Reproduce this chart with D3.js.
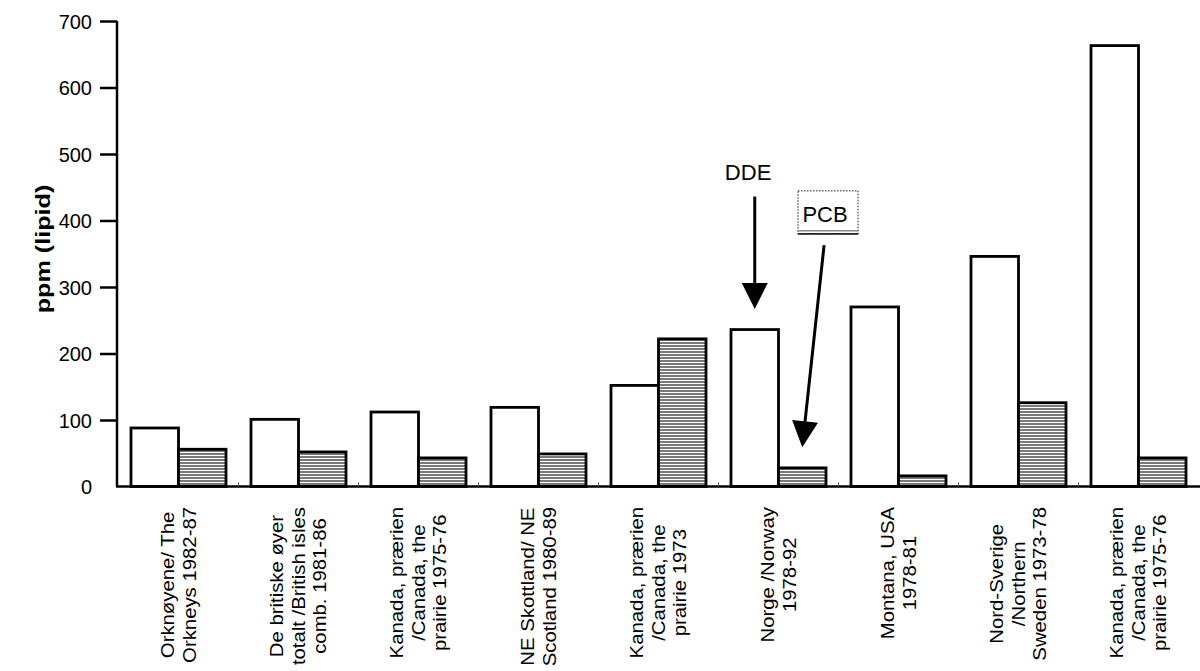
<!DOCTYPE html>
<html><head><meta charset="utf-8">
<script src="https://cdn.jsdelivr.net/npm/d3@7"></script>
<style>
html,body{margin:0;padding:0;background:#fff;}
svg{display:block;font-family:"Liberation Sans",Arial,Helvetica,sans-serif;}
</style></head><body>
<svg id="chart" width="1200" height="671"></svg>
<script>
// ---------- data ----------
const categories = [
  ["Orknøyene/ The", "Orkneys 1982-87"],
  ["De britiske øyer", "totalt /British isles", "comb. 1981-86"],
  ["Kanada, prærien", "/Canada, the", "prairie 1975-76"],
  ["NE Skottland/ NE", "Scotland 1980-89"],
  ["Kanada, prærien", "/Canada, the", "prairie 1973"],
  ["Norge /Norway", "1978-92"],
  ["Montana, USA", "1978-81"],
  ["Nord-Sverige", "/Northern", "Sweden 1973-78"],
  ["Kanada, prærien", "/Canada, the", "prairie 1975-76"]
];
const seriesNames = ["DDE", "PCB"];
const ddeValues = [88, 101, 112, 119, 152, 236, 270, 346, 663];
const pcbValues = [56, 52, 43, 49, 222, 28, 16, 126, 43];
const yTicks = [0, 100, 200, 300, 400, 500, 600, 700];
const yLabel = "ppm (lipid)";
// annotation arrows, in data space: category index, fraction across group band, value
const annotations = [
  { label: "DDE", boxed: false, cat: 5, labelFrac: 0.18, labelValue: 461,
    tailFrac: 0.25, tailValue: 436, tipFrac: 0.25, tipValue: 267 },
  { label: "PCB", boxed: true, cat: 5, labelFrac: 0.99, labelValue: 398,
    tailFrac: 0.98, tailValue: 363, tipFrac: 0.75, tipValue: 59 }
];

// ---------- layout ----------
const W = 1200, H = 671;
const axisX = 117, y0px = 486.5, yTopPx = 21;
const svg = d3.select("#chart");

const idx = categories.map((d, i) => i);
const x = d3.scaleBand().domain(idx).range([118.5, 1198.5])
  .paddingInner(25 / 120).paddingOuter(12.5 / 120);
const xs = d3.scaleBand().domain(seriesNames).range([0, x.bandwidth()]).padding(0);
const y = d3.scaleLinear().domain([0, 700]).range([y0px, yTopPx]);

// hatch pattern
const defs = svg.append("defs");
const pat = defs.append("pattern").attr("id", "hatch")
  .attr("patternUnits", "userSpaceOnUse").attr("width", 8).attr("height", 3);
pat.append("rect").attr("width", 8).attr("height", 3).attr("fill", "#ffffff");
pat.append("rect").attr("width", 8).attr("height", 2).attr("fill", "#7a7a7a");

const data = idx.map(i => ({ i, values: [
  { s: "DDE", v: ddeValues[i] }, { s: "PCB", v: pcbValues[i] }] }));

// bars
const groups = svg.append("g").selectAll("g").data(data).join("g")
  .attr("transform", d => `translate(${x(d.i)},0)`);
groups.selectAll("rect").data(d => d.values).join("rect")
  .attr("x", d => xs(d.s))
  .attr("width", xs.bandwidth())
  .attr("y", d => y(d.v))
  .attr("height", d => y(0) - y(d.v))
  .attr("fill", d => d.s === "DDE" ? "#ffffff" : "url(#hatch)")
  .attr("stroke", "#000").attr("stroke-width", 2.8);

// x axis line and small inner ticks at group boundaries
svg.append("line").attr("x1", axisX - 1).attr("x2", W).attr("y1", y(0)).attr("y2", y(0))
  .attr("stroke", "#000").attr("stroke-width", 2.5);
const step = x.step();
const bounds = idx.slice(1).map(i => x(i) - x.paddingInner() * step / 2);
svg.append("g").selectAll("line").data(bounds).join("line")
  .attr("x1", d => d).attr("x2", d => d)
  .attr("y1", y(0)).attr("y2", y(0) - 4)
  .attr("stroke", "#555").attr("stroke-width", 1);

// y axis
const yAxis = d3.axisLeft(y).tickValues(yTicks).tickSize(17).tickPadding(8)
  .tickFormat(d3.format("d"));
const ya = svg.append("g").attr("transform", `translate(${axisX},0)`).call(yAxis);
ya.select(".domain").attr("stroke", "#000").attr("stroke-width", 2.5)
  .attr("d", `M0,${y(700)}V${y(0)}`);
ya.selectAll(".tick line").attr("stroke", "#000").attr("stroke-width", 2.5)
  .filter(d => d === 0).remove();
ya.selectAll(".tick text").attr("font-size", 20).attr("fill", "#000")
  .attr("font-family", '"Liberation Sans",Arial,sans-serif').attr("dy", "0.35em");

// y label
svg.append("g").attr("transform", "translate(44,249) rotate(-90) scale(1.2,1)")
  .append("text").attr("text-anchor", "middle").attr("y", 5.5)
  .attr("font-size", 21).attr("font-weight", "bold").text(yLabel);

// category labels (rotated, lines centered in block, block top at fixed y)
const labelTop = 507, lineGap = 21.5, catFont = 18, stretch = 1.13;
categories.forEach((lines, i) => {
  const cx = x(i) + x.bandwidth() / 2;
  const g = svg.append("g")
    .attr("transform", `translate(${cx},${labelTop}) rotate(-90) scale(${stretch},1)`);
  const texts = lines.map((t, k) => g.append("text")
    .attr("font-size", catFont).attr("text-anchor", "middle")
    .attr("y", (k - (lines.length - 1) / 2) * lineGap + 6.4)
    .text(t));
  const maxLen = d3.max(texts, t => t.node().getComputedTextLength());
  texts.forEach(t => t.attr("x", -maxLen / 2));
});

// annotations
const ax = (a, f) => x(a.cat) + f * x.bandwidth();
annotations.forEach(a => {
  const lx = ax(a, a.labelFrac), ly = y(a.labelValue);
  if (a.boxed) {
    const bx = lx - 27, by = ly - 31, bw = 60, bh = 43;
    svg.append("rect").attr("x", bx).attr("y", by).attr("width", bw).attr("height", bh)
      .attr("fill", "none").attr("stroke", "#666").attr("stroke-width", 1.5)
      .attr("stroke-dasharray", "1.5,1.5");
    svg.append("line").attr("x1", bx).attr("x2", bx + bw).attr("y1", by + bh - 3).attr("y2", by + bh - 3)
      .attr("stroke", "#888").attr("stroke-width", 1.5);
    svg.append("line").attr("x1", bx).attr("x2", bx + bw).attr("y1", by + bh).attr("y2", by + bh)
      .attr("stroke", "#222").attr("stroke-width", 1.6);
  }
  svg.append("text").attr("x", lx).attr("y", ly).attr("text-anchor", "middle")
    .attr("font-size", 22).text(a.label);

  const tx = ax(a, a.tailFrac), ty = y(a.tailValue);
  const px = ax(a, a.tipFrac), py = y(a.tipValue);
  const dx = px - tx, dy = py - ty, len = Math.hypot(dx, dy);
  const ux = dx / len, uy = dy / len, nx = -uy, ny = ux;
  const headL = 26, headW = 13;
  const bx = px - ux * headL, by = py - uy * headL;
  svg.append("line").attr("x1", tx).attr("y1", ty).attr("x2", bx + ux * 2).attr("y2", by + uy * 2)
    .attr("stroke", "#000").attr("stroke-width", 3);
  svg.append("path")
    .attr("d", `M${bx + nx * headW},${by + ny * headW}L${px},${py}L${bx - nx * headW},${by - ny * headW}Z`)
    .attr("fill", "#000");
});
</script>
</body></html>
